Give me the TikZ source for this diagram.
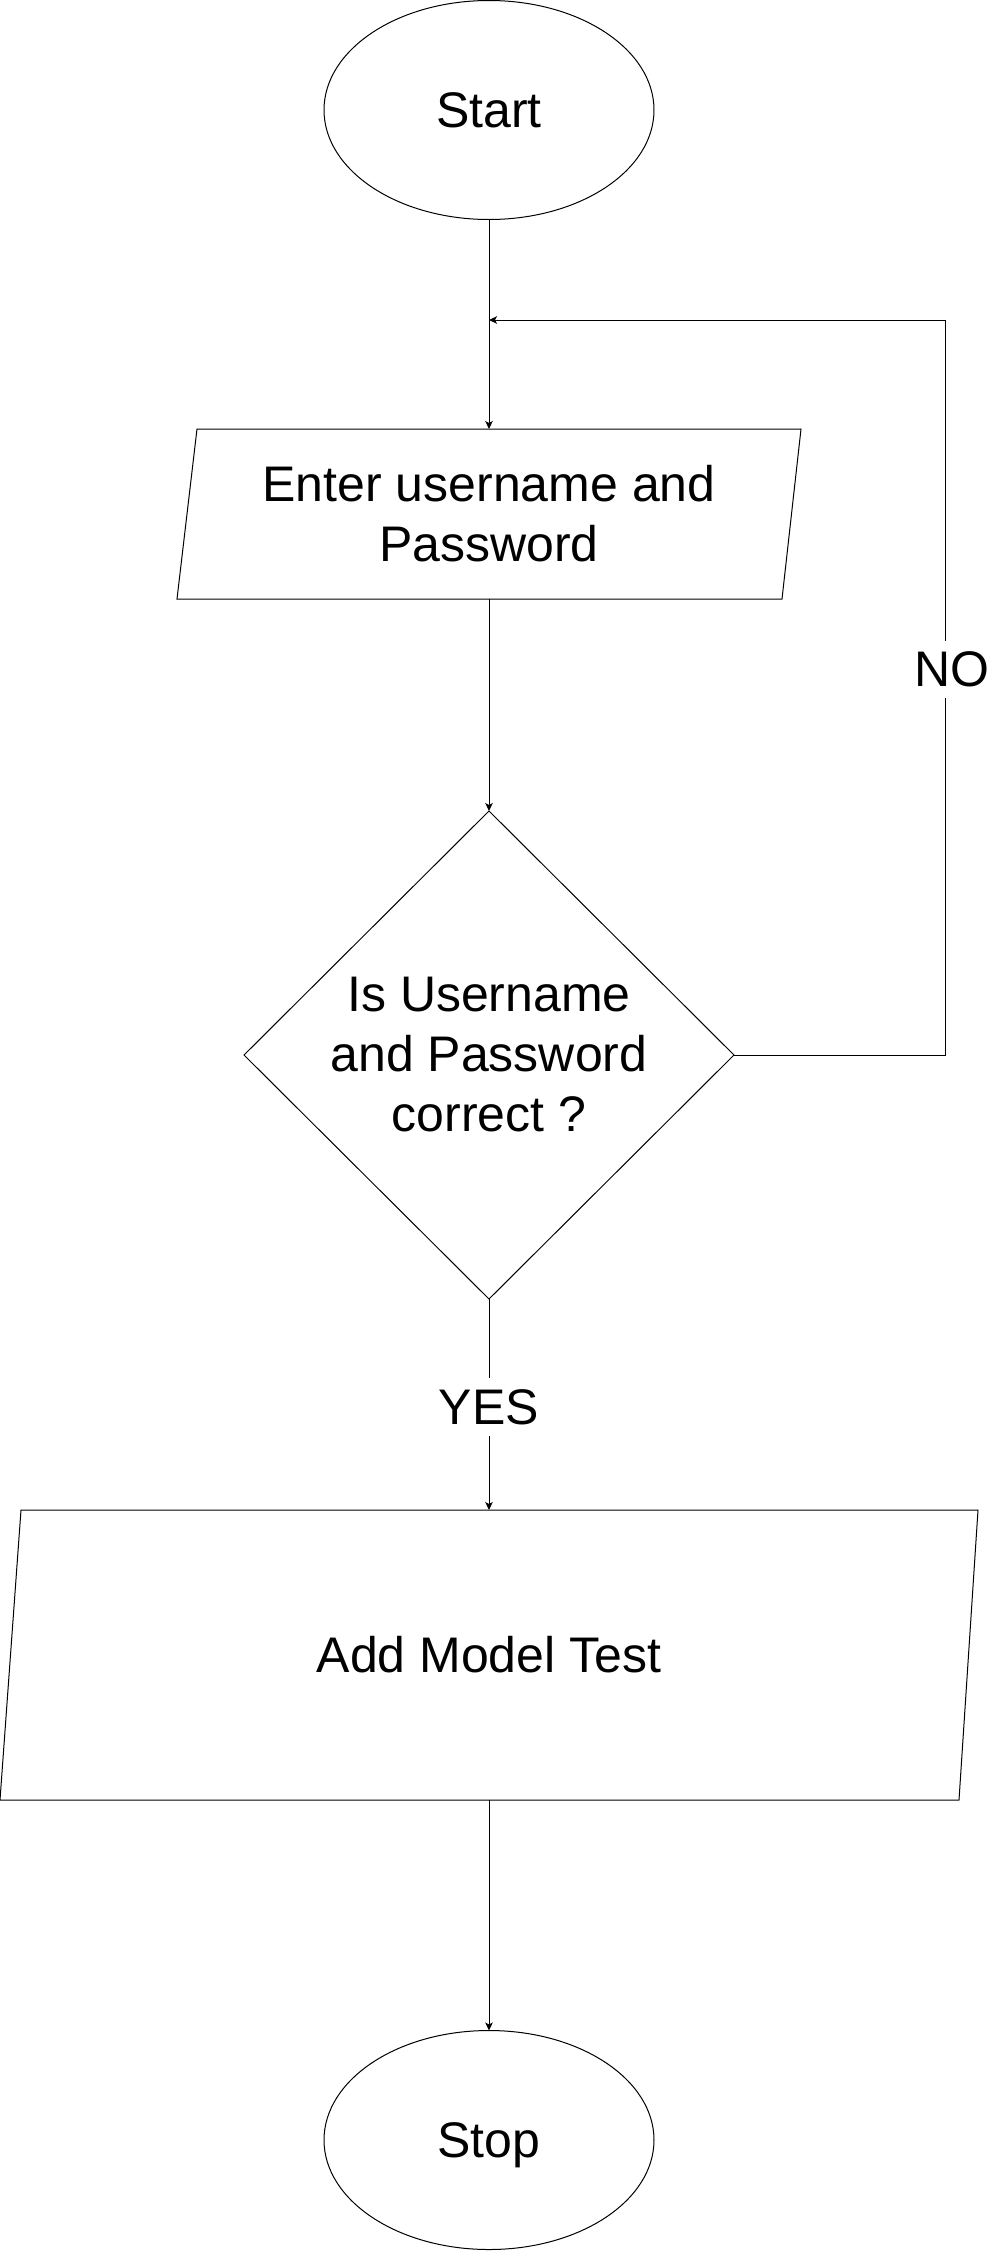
\documentclass[tikz,border=0pt]{standalone}
\usepackage{fontspec}
\setmainfont{Liberation Sans}
\usetikzlibrary{shapes.geometric,arrows.meta}
\tikzset{
  shapeline/.style={draw=black, line width=1pt},
  lbl/.style={font=\fontsize{50pt}{60pt}\selectfont, align=center, inner sep=0pt, outer sep=0pt},
  terminal/.style={shapeline, lbl, ellipse, minimum width=330pt, minimum height=219pt},
  decision/.style={shapeline, lbl, diamond, minimum width=490pt, minimum height=488pt},
  flow/.style={draw=black, line width=1pt, -{Stealth[length=8pt,width=7.5pt,inset=2pt]}},
  plain/.style={draw=black, line width=1pt},
  edgelabel/.style={lbl, fill=white, inner xsep=4pt, inner ysep=11pt},
}
\begin{document}
\begin{tikzpicture}[x=1pt,y=-1pt]
\useasboundingbox (0,0) rectangle (991,2251);
\fill[white] (0,0) rectangle (991,2251);

% Start
\node[terminal] (start) at (489,110) {Start};

% Input 1
\draw[shapeline] (197,429) -- (801,429) -- (782,599) -- (177,599) -- cycle;
\node[lbl] (enter) at (489,514) {Enter username and\\Password};
\coordinate (enterN) at (489,429);
\coordinate (enterS) at (489,599);

% Decision
\node[decision] (check) at (489,1055) {Is Username\\and Password\\correct ?};

% Input 2
\draw[shapeline] (21,1510) -- (978,1510) -- (959,1800) -- (0,1800) -- cycle;
\node[lbl] (add) at (489,1655) {Add Model Test};
\coordinate (addN) at (489,1510);
\coordinate (addS) at (489,1800);

% Stop
\node[terminal, text depth=0pt] (stop) at (489,2140) {Stop};

% loop coordinates
\coordinate (merge) at (489,320);
\coordinate (c1) at (945,1055);
\coordinate (c2) at (945,320);

% connectors
\draw[flow] (start) -- (enterN);
\draw[flow] (enterS) -- (check.north);
\draw[flow] (check.east) -- (c1) -- (c2) -- (merge);
\draw[flow] (check.south) -- (addN);
\draw[flow] (addS) -- (stop.north);

% labels on connectors
\node[edgelabel] (no) at (952,669.5) {NO};
\node[edgelabel] (yes) at (489,1407) {YES};
\end{tikzpicture}
\end{document}
